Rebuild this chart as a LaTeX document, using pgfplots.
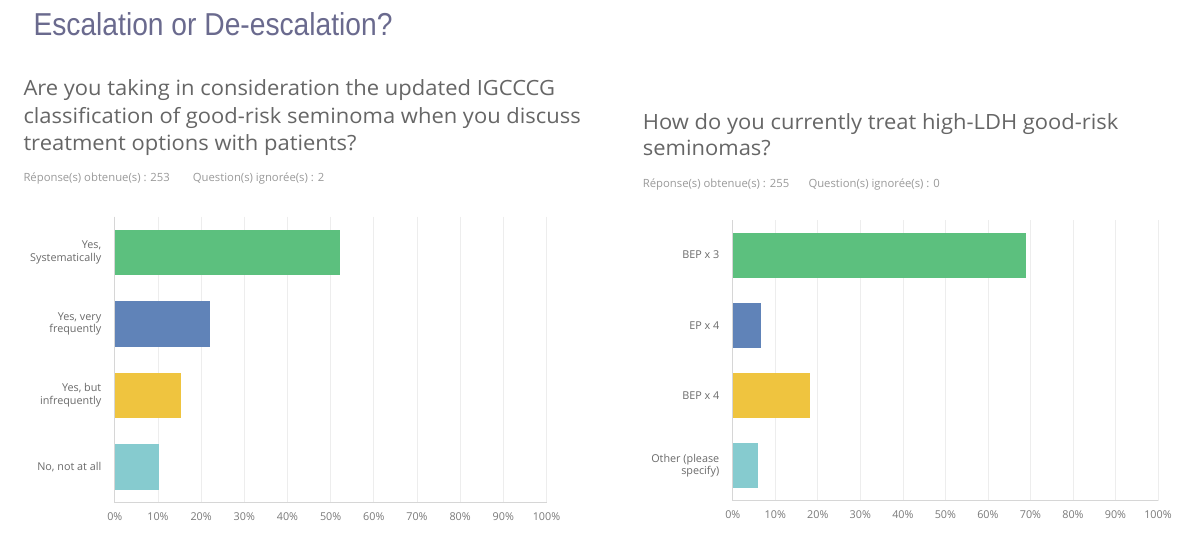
\documentclass[border=0pt]{standalone}
\usepackage{pgfplots}
\pgfplotsset{compat=1.18}
\usepackage{fontspec}
\setmainfont{Open Sans}
\newfontfamily\titlefont{Liberation Sans}
\definecolor{sgreen}{HTML}{5CC07E}
\definecolor{sblue}{HTML}{6083B8}
\definecolor{syellow}{HTML}{EFC43F}
\definecolor{scyan}{HTML}{86CBCF}
\definecolor{titlecol}{HTML}{6A6A8E}
\definecolor{qtext}{HTML}{666666}
\definecolor{subtext}{HTML}{9A9A9A}
\definecolor{ticktext}{HTML}{7A7A7A}
\definecolor{cattext}{HTML}{6A6A6A}
\definecolor{axisgray}{HTML}{D6D6D6}
\definecolor{gridgray}{HTML}{EDEDED}
\pgfplotsset{sm/.style={
  xbar, bar shift=0pt, scale only axis, anchor=south west,
  xmin=0, xmax=100, ymin=-0.5, ymax=3.5, y dir=reverse,
  bar width=0.64,
  axis x line*=bottom, axis y line*=left,
  axis line style={draw=axisgray, line width=0.9pt},
  xtick={0,10,...,100},
  xticklabel={\pgfmathprintnumber{\tick}\%},
  xmajorgrids, grid style={draw=gridgray, line width=0.7pt},
  major tick length=0pt,
  ytick={0,1,2,3},
  tick label style={font=\fontsize{10.8}{12.8}\selectfont},
  xticklabel style={text=ticktext, anchor=center, yshift=-14pt},
  yticklabel style={align=right, text=cattext, anchor=east, xshift=-10pt},
  /pgf/number format/assume math mode=true,
}}
\newcommand\q[1]{\scalebox{1.045}[1]{#1}}
\begin{document}
\begin{tikzpicture}[x=1pt,y=1pt]
\path[fill=white, use as bounding box] (0,0) rectangle (1200,552);
% slide title
\node[anchor=base west, inner sep=0, text=titlecol] at (33.3,516)
  {\scalebox{0.89}[1]{\titlefont\fontsize{31.7}{36}\selectfont Escalation or De-escalation?}};
% questions
\begin{scope}[every node/.style={anchor=base west, inner sep=0, text=qtext, font=\fontsize{21}{25}\selectfont}]
\node at (23.3,456) {\q{Are you taking in consideration the updated IGCCCG}};
\node at (23.3,428.5) {\q{classification of good-risk seminoma when you discuss}};
\node at (23.3,401) {\q{treatment options with patients?}};
\node at (642.7,422.7) {\q{How do you currently treat high-LDH good-risk}};
\node at (642.7,396) {\q{seminomas?}};
\end{scope}
\begin{scope}[every node/.style={anchor=base west, inner sep=0, text=subtext, font=\fontsize{11.3}{13}\selectfont}]
\node at (23.3,370) {Réponse(s) obtenue(s) : 253};
\node at (192.7,370) {Question(s) ignorée(s) : 2};
\node at (642.7,364.5) {Réponse(s) obtenue(s) : 255};
\node at (808.3,364.5) {Question(s) ignorée(s) : 0};
\end{scope}
% left chart
\begin{axis}[sm, at={(114.8pt,49.3pt)}, width=431.7pt, height=286pt,
  yticklabels={{Yes,\\Systematically},{Yes, very\\frequently},{Yes, but\\infrequently},{No, not at all}}]
\addplot[fill=sgreen, draw=none] coordinates {(52.17,0)};
\addplot[fill=sblue, draw=none] coordinates {(22.13,1)};
\addplot[fill=syellow, draw=none] coordinates {(15.42,2)};
\addplot[fill=scyan, draw=none] coordinates {(10.28,3)};
\end{axis}
% right chart
\begin{axis}[sm, at={(732.8pt,51.3pt)}, width=425.2pt, height=280.7pt,
  yticklabels={{BEP x 3},{EP x 4},{BEP x 4},{Other (please\\specify)}}]
\addplot[fill=sgreen, draw=none] coordinates {(69.02,0)};
\addplot[fill=sblue, draw=none] coordinates {(6.67,1)};
\addplot[fill=syellow, draw=none] coordinates {(18.24,2)};
\addplot[fill=scyan, draw=none] coordinates {(5.88,3)};
\end{axis}
\end{tikzpicture}
\end{document}
